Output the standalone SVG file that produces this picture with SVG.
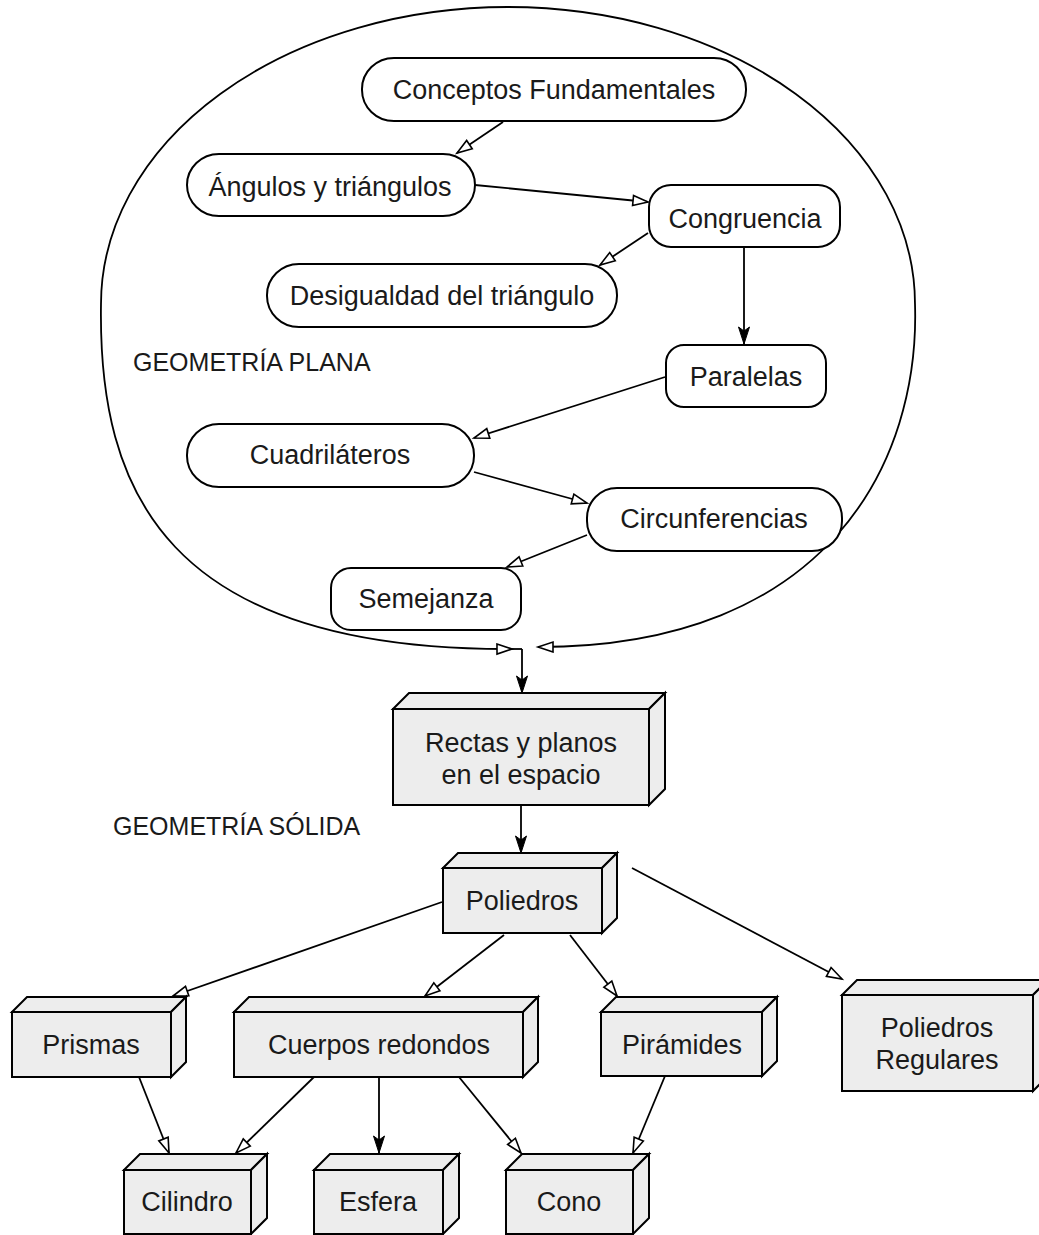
<svg xmlns="http://www.w3.org/2000/svg" width="1039" height="1235" viewBox="0 0 1039 1235">
<style>
.bg{fill:#fff}
.rn{fill:#fff;stroke:#000;stroke-width:2}
.face{fill:#ededed;stroke:#000;stroke-width:2;stroke-linejoin:miter}
.t{font-family:"Liberation Sans",Arial,sans-serif;font-size:27px;fill:#1a1a1a;text-anchor:middle}
.lbl{font-family:"Liberation Sans",Arial,sans-serif;font-size:25px;fill:#1a1a1a}
.c{fill:none;stroke:#000;stroke-width:1.8}
.o{marker-end:url(#open)}
.f{marker-end:url(#filled)}
</style>
<defs>
<marker id="open" markerUnits="userSpaceOnUse" markerWidth="20" markerHeight="14" refX="17" refY="7" orient="auto">
<path d="M2,2 L17,7 L2,12 Z" fill="#fff" stroke="#000" stroke-width="1.6"/>
</marker>
<marker id="filled" markerUnits="userSpaceOnUse" markerWidth="20" markerHeight="14" refX="18" refY="7" orient="auto">
<path d="M1,1.5 L18,7 L1,12.5 L5,7 Z" fill="#000" stroke="#000" stroke-width="1"/>
</marker>
</defs>
<rect class="bg" x="0" y="0" width="1039" height="1235"/>

<g id="geometria-plana">
<path class="c" d="M508,7 A407,297 0 0 0 101,304 C98,490 165,651 512,649" marker-end="url(#open)"/>
<path class="c" d="M508,7 A407,297 0 0 1 915,304 C920,460 830,647 538,647" marker-end="url(#open)"/>
<text class="lbl" x="133" y="371">GEOMETRÍA PLANA</text>
</g>

<g id="connectors">
<path class="c o" d="M503,122 L457,153"/>
<path class="c o" d="M475,185 L648,202"/>
<path class="c o" d="M648,233 L600,265"/>
<path class="c f" d="M744,248 L744,344"/>
<path class="c o" d="M665,377 L474,438"/>
<path class="c o" d="M474,472 L587,503"/>
<path class="c o" d="M587,535 L507,567"/>
<path class="c" d="M510,649 L522,649"/>
<path class="c f" d="M522,649 L522,693"/>
<path class="c f" d="M521,805 L521,853"/>
<path class="c o" d="M442,902 L173,996"/>
<path class="c o" d="M504,935 L425,996"/>
<path class="c o" d="M570,935 L617,996"/>
<path class="c o" d="M632,868 L842,979"/>
<path class="c o" d="M139,1077 L169,1153"/>
<path class="c o" d="M314,1077 L236,1153"/>
<path class="c f" d="M379,1077 L379,1153"/>
<path class="c o" d="M459,1077 L521,1153"/>
<path class="c o" d="M665,1076 L633,1153"/>
</g>

<g id="conceptos-fundamentales">
<rect class="rn" x="362" y="58" width="384" height="63" rx="32" ry="31"/>
<text class="t" x="554" y="99">Conceptos Fundamentales</text>
</g>
<g id="angulos-triangulos">
<rect class="rn" x="187" y="154" width="288" height="62" rx="32" ry="31"/>
<text class="t" x="330" y="196">Ángulos y triángulos</text>
</g>
<g id="congruencia">
<rect class="rn" x="649" y="185" width="191" height="62" rx="22" ry="22"/>
<text class="t" x="745" y="228">Congruencia</text>
</g>
<g id="desigualdad">
<rect class="rn" x="267" y="264" width="350" height="63" rx="32" ry="31"/>
<text class="t" x="442" y="305">Desigualdad del triángulo</text>
</g>
<g id="paralelas">
<rect class="rn" x="666" y="345" width="160" height="62" rx="18" ry="18"/>
<text class="t" x="746" y="386">Paralelas</text>
</g>
<g id="cuadrilateros">
<rect class="rn" x="187" y="424" width="287" height="63" rx="32" ry="31"/>
<text class="t" x="330" y="464">Cuadriláteros</text>
</g>
<g id="circunferencias">
<rect class="rn" x="587" y="488" width="255" height="63" rx="30" ry="30"/>
<text class="t" x="714" y="528">Circunferencias</text>
</g>
<g id="semejanza">
<rect class="rn" x="331" y="568" width="190" height="62" rx="20" ry="20"/>
<text class="t" x="426" y="608">Semejanza</text>
</g>

<text class="lbl" x="113" y="835">GEOMETRÍA SÓLIDA</text>

<g id="rectas-planos">
<polygon class="face" points="393,709 409,693 665,693 649,709"/>
<polygon class="face" points="649,709 665,693 665,789 649,805"/>
<rect class="face" x="393" y="709" width="256" height="96"/>
<text class="t" x="521" y="752">Rectas y planos</text>
<text class="t" x="521" y="784">en el espacio</text>
</g>
<g id="poliedros">
<polygon class="face" points="443,868 458,853 617,853 602,868"/>
<polygon class="face" points="602,868 617,853 617,918 602,933"/>
<rect class="face" x="443" y="868" width="159" height="65"/>
<text class="t" x="522" y="910">Poliedros</text>
</g>
<g id="prismas">
<polygon class="face" points="12,1012 27,997 186,997 171,1012"/>
<polygon class="face" points="171,1012 186,997 186,1062 171,1077"/>
<rect class="face" x="12" y="1012" width="159" height="65"/>
<text class="t" x="91" y="1054">Prismas</text>
</g>
<g id="cuerpos-redondos">
<polygon class="face" points="234,1012 249,997 538,997 523,1012"/>
<polygon class="face" points="523,1012 538,997 538,1062 523,1077"/>
<rect class="face" x="234" y="1012" width="289" height="65"/>
<text class="t" x="379" y="1054">Cuerpos redondos</text>
</g>
<g id="piramides">
<polygon class="face" points="601,1012 616,997 777,997 762,1012"/>
<polygon class="face" points="762,1012 777,997 777,1061 762,1076"/>
<rect class="face" x="601" y="1012" width="161" height="64"/>
<text class="t" x="682" y="1054">Pirámides</text>
</g>
<g id="poliedros-regulares">
<polygon class="face" points="842,995 857,980 1048,980 1033,995"/>
<polygon class="face" points="1033,995 1048,980 1048,1076 1033,1091"/>
<rect class="face" x="842" y="995" width="191" height="96"/>
<text class="t" x="937" y="1037">Poliedros</text>
<text class="t" x="937" y="1069">Regulares</text>
</g>
<g id="cilindro">
<polygon class="face" points="124,1170 140,1154 267,1154 251,1170"/>
<polygon class="face" points="251,1170 267,1154 267,1218 251,1234"/>
<rect class="face" x="124" y="1170" width="127" height="64"/>
<text class="t" x="187" y="1211">Cilindro</text>
</g>
<g id="esfera">
<polygon class="face" points="314,1170 330,1154 459,1154 443,1170"/>
<polygon class="face" points="443,1170 459,1154 459,1218 443,1234"/>
<rect class="face" x="314" y="1170" width="129" height="64"/>
<text class="t" x="378" y="1211">Esfera</text>
</g>
<g id="cono">
<polygon class="face" points="506,1170 522,1154 649,1154 633,1170"/>
<polygon class="face" points="633,1170 649,1154 649,1218 633,1234"/>
<rect class="face" x="506" y="1170" width="127" height="64"/>
<text class="t" x="569" y="1211">Cono</text>
</g>
</svg>
